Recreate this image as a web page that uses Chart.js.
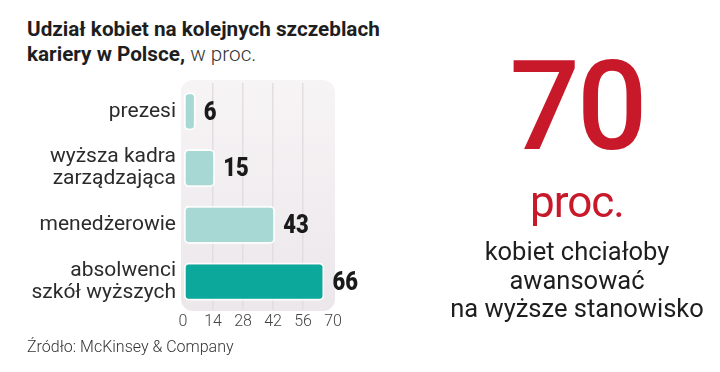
<!DOCTYPE html>
<html lang="pl">
<head>
<meta charset="utf-8">
<script src="https://cdn.jsdelivr.net/npm/chart.js@4"></script>
<style>
body { margin: 0; background: #fff; font-family: Roboto, sans-serif; }
#wrap { position: relative; width: 720px; height: 372px; overflow: hidden; }
#chart { position: absolute; left: 0; top: 0; }
.title { position: absolute; left: 27px; top: 17px; font-size: 20.7px; line-height: 25px; font-weight: 700; color: #1e1e1e; }
.title span { font-weight: 300; color: #333; }
.source { position: absolute; left: 27px; top: 338px; font-size: 16px; line-height: 18px; font-weight: 300; color: #333; }
.big { position: absolute; left: 440px; width: 274px; text-align: center; color: #c8192b; }
.big70 { top: 45px; font-size: 124px; line-height: 124px; font-weight: 500; letter-spacing: -3px; }
.proc { top: 180px; font-size: 44px; line-height: 44px; font-weight: 400; letter-spacing: -1px; }
.desc { position: absolute; left: 440px; width: 274px; top: 237px; text-align: center; font-size: 25.5px; line-height: 28.5px; color: #1e1e1e; }
</style>
</head>
<body>
<div id="wrap">
  <div class="title">Udział kobiet na kolejnych szczeblach<br>kariery w Polsce, <span>w proc.</span></div>
  <canvas id="chart" width="720" height="372"></canvas>
  <div class="source">Źródło: McKinsey &amp; Company</div>
  <div class="big big70">70</div>
  <div class="big proc">proc.</div>
  <div class="desc">kobiet chciałoby<br>awansować<br>na wyższe stanowisko</div>
</div>
<script>
// dane z wykresu
const categories = [['prezesi'], ['wyższa kadra', 'zarządzająca'], ['menedżerowie'], ['absolwenci', 'szkół wyższych']];
const values = [6, 15, 43, 66];
const xTicks = [0, 14, 28, 42, 56, 70];
const barColors = ['#a8d8d4', '#a8d8d4', '#a8d8d4', '#0ba89b'];

// tlo pod wykresem (zaokraglony panel)
const panel = {
    id: 'panel',
    beforeDraw(chart) {
        const ctx = chart.ctx;
        const a = chart.chartArea;
        ctx.save();
        const g = ctx.createLinearGradient(0, a.top, 0, a.bottom);
        g.addColorStop(0, '#f7f4f6');
        g.addColorStop(1, '#ebe7ea');
        ctx.fillStyle = g;
        ctx.beginPath();
        ctx.roundRect(a.left - 2, a.top - 3, a.right - a.left + 4, a.bottom - a.top + 4, 12);
        ctx.fill();
        ctx.restore();
    }
};

// liczby przy slupkach (waskie, pogrubione)
const valueLabels = {
    id: 'valueLabels',
    afterDatasetsDraw(chart) {
        const ctx = chart.ctx;
        const meta = chart.getDatasetMeta(0);
        const squeeze = 0.88;
        ctx.save();
        ctx.font = '900 25px Roboto, sans-serif';
        ctx.fillStyle = '#1a1a1a';
        ctx.textBaseline = 'middle';
        meta.data.forEach(function(bar, i) {
            ctx.save();
            ctx.translate(bar.x + 8, bar.y + 2);
            ctx.scale(squeeze, 1);
            ctx.fillText(values[i], 0, 0);
            ctx.restore();
        });
        ctx.restore();
    }
};

new Chart(document.getElementById('chart'), {
    type: 'bar',
    data: {
        labels: categories,
        datasets: [{
            data: values,
            backgroundColor: barColors,
            borderColor: 'rgba(255, 255, 255, 0.85)',
            borderWidth: 2,
            borderRadius: 5,
            borderSkipped: false,
            barPercentage: 0.67,
            categoryPercentage: 1
        }]
    },
    options: {
        indexAxis: 'y',
        responsive: false,
        animation: false,
        layout: { padding: { left: 0, right: 387, top: 83, bottom: 0 } },
        plugins: { legend: { display: false }, tooltip: { enabled: false } },
        scales: {
            y: {
                grid: { display: false, drawTicks: false },
                border: { display: false },
                ticks: { font: { family: 'Roboto', size: 21, lineHeight: 1.05 }, color: '#2b2b2b', padding: 7 },
                afterFit: function(s) { s.width = 183; }
            },
            x: {
                min: 0,
                max: 70,
                afterBuildTicks: function(s) { s.ticks = xTicks.map(v => ({ value: v })); },
                grid: {
                    drawTicks: false,
                    lineWidth: 1.5,
                    color: function(c) {
                        if (c.tick && (c.tick.value === 0 || c.tick.value === 70)) return 'rgba(0,0,0,0)';
                        return '#e2dde1';
                    }
                },
                border: { display: false },
                ticks: { font: { family: 'Roboto', size: 16, weight: 300 }, color: '#444', padding: 2 },
                afterFit: function(s) { s.height = 62; }
            }
        }
    },
    plugins: [panel, valueLabels]
});
</script>
</body>
</html>
